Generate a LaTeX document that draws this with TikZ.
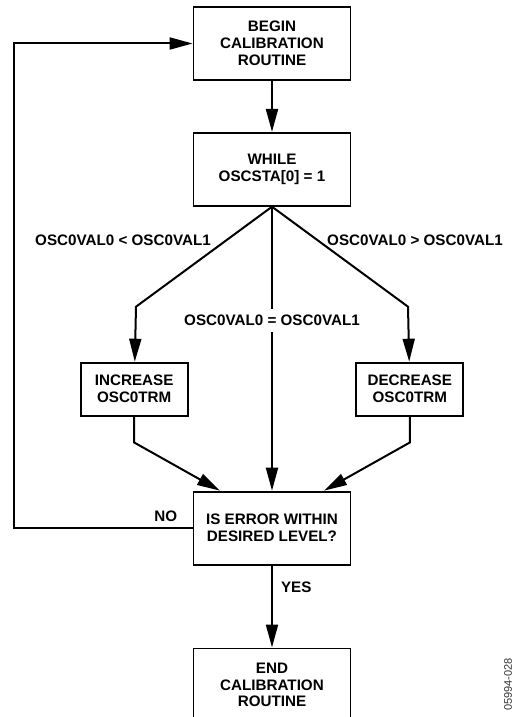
\documentclass[tikz,border=0pt]{standalone}
\usepackage{fontspec}
\setmainfont{Liberation Sans}
\usetikzlibrary{positioning, arrows.meta}
\tikzset{
>={Triangle[length=11.5pt, width=6pt]}, % big filled arrow heads
every path/.style={line width=1pt}, % thick connectors
box/.style={draw, line width=0.9pt, align=center, inner sep=1pt,
  font=\bfseries\fontsize{7.6}{8.4}\selectfont,
  minimum width=78.5pt, minimum height=36.5pt}, % main step boxes
smallbox/.style={box, minimum width=53.5pt, minimum height=26.5pt}, % side boxes
cond/.style={font=\bfseries\fontsize{7.6}{8.4}\selectfont, inner sep=1pt}, % branch labels
}

\begin{document}
\begin{tikzpicture}
\useasboundingbox (-136pt,21.75pt) rectangle (129pt,-336.75pt);
\node[box] (begin) {BEGIN\\CALIBRATION\\ROUTINE};
\node[box, below=25.5pt of begin] (while) {WHILE\\OSCSTA[0] = 1};
\node[smallbox, below left=77.5pt and 2pt of while] (incr) {INCREASE\\OSC0TRM};
\node[smallbox, below right=77.5pt and 2pt of while] (decr) {DECREASE\\OSC0TRM};
\node[box, below=142pt of while] (error) {IS ERROR WITHIN\\DESIRED LEVEL?};
\node[box, below=41pt of error] (end) {END\\CALIBRATION\\ROUTINE};
\node[font=\fontsize{5.5}{6}\selectfont, text=black!80, rotate=90] (figno) at (118pt,-320.5pt) {05994-028};
\draw[->] (begin) -- (while);
\draw[->] (while.south) -- node[cond, pos=0.34, left=6pt] {OSC0VAL0 < OSC0VAL1} ++(-68pt,-50pt) -- (incr);
\draw[->] (while.south) -- node[cond, pos=0.34, right=3pt] {OSC0VAL0 > OSC0VAL1} ++(68pt,-50pt) -- (decr);
\draw[->] (while) -- node[cond, pos=0.4, fill=white, inner ysep=3pt] {OSC0VAL0 = OSC0VAL1} (error);
\draw[->] (incr.south) -- ++(0,-13pt) -- ([xshift=-26pt]error.north);
\draw[->] (decr.south) -- ++(0,-13pt) -- ([xshift=26pt]error.north);
\draw[->] (error.west) -- node[cond, pos=0.07, above left, yshift=1.5pt] {NO} ++(-89.25pt,0) |- (begin.west);
\draw[->] (error) -- node[cond, pos=0.27, right=3pt] {YES} (end);
\end{tikzpicture}
\end{document}
